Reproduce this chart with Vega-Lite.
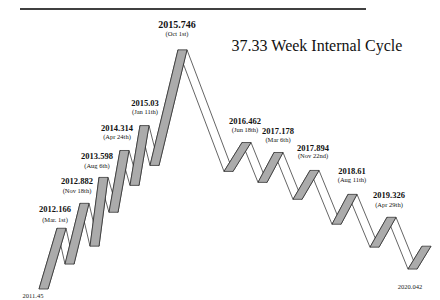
{
  "$schema": "https://vega.github.io/schema/vega-lite/v6.json",
  "width": 440,
  "height": 300,
  "autosize": {"type": "fit", "contains": "padding"},
  "padding": 0,
  "background": "white",
  "config": {"view": {"stroke": null}},
  "datasets": {
    "zigzag": [
      {"i": 0, "x": 39, "lvl": 10},
      {"i": 1, "x": 57, "lvl": 71},
      {"i": 2, "x": 65, "lvl": 35},
      {"i": 3, "x": 80, "lvl": 96},
      {"i": 4, "x": 90, "lvl": 53},
      {"i": 5, "x": 99, "lvl": 122},
      {"i": 6, "x": 109, "lvl": 87},
      {"i": 7, "x": 120, "lvl": 149},
      {"i": 8, "x": 130, "lvl": 114},
      {"i": 9, "x": 140, "lvl": 174},
      {"i": 10, "x": 150, "lvl": 134},
      {"i": 11, "x": 178, "lvl": 250},
      {"i": 12, "x": 224, "lvl": 128},
      {"i": 13, "x": 242, "lvl": 157},
      {"i": 14, "x": 258, "lvl": 117},
      {"i": 15, "x": 274, "lvl": 147},
      {"i": 16, "x": 293, "lvl": 100},
      {"i": 17, "x": 310, "lvl": 129},
      {"i": 18, "x": 332, "lvl": 75},
      {"i": 19, "x": 348, "lvl": 105},
      {"i": 20, "x": 370, "lvl": 52},
      {"i": 21, "x": 387, "lvl": 82},
      {"i": 22, "x": 408, "lvl": 30},
      {"i": 23, "x": 422, "lvl": 53}
    ],
    "rise": [
      {"seg": 0, "x": 39, "lvl": 10}, {"seg": 0, "x": 57, "lvl": 71},
      {"seg": 1, "x": 65, "lvl": 35}, {"seg": 1, "x": 80, "lvl": 96},
      {"seg": 2, "x": 90, "lvl": 53}, {"seg": 2, "x": 99, "lvl": 122},
      {"seg": 3, "x": 109, "lvl": 87}, {"seg": 3, "x": 120, "lvl": 149},
      {"seg": 4, "x": 130, "lvl": 114}, {"seg": 4, "x": 140, "lvl": 174},
      {"seg": 5, "x": 150, "lvl": 134}, {"seg": 5, "x": 178, "lvl": 250},
      {"seg": 6, "x": 224, "lvl": 128}, {"seg": 6, "x": 242, "lvl": 157},
      {"seg": 7, "x": 258, "lvl": 117}, {"seg": 7, "x": 274, "lvl": 147},
      {"seg": 8, "x": 293, "lvl": 100}, {"seg": 8, "x": 310, "lvl": 129},
      {"seg": 9, "x": 332, "lvl": 75}, {"seg": 9, "x": 348, "lvl": 105},
      {"seg": 10, "x": 370, "lvl": 52}, {"seg": 10, "x": 387, "lvl": 82},
      {"seg": 11, "x": 408, "lvl": 30}, {"seg": 11, "x": 422, "lvl": 53}
    ],
    "years": [
      {"x": 55, "lvl": 90, "t": "2012.166"},
      {"x": 77, "lvl": 118, "t": "2012.882"},
      {"x": 97, "lvl": 143, "t": "2013.598"},
      {"x": 117, "lvl": 172, "t": "2014.314"},
      {"x": 145, "lvl": 197, "t": "2015.03"},
      {"x": 245, "lvl": 179, "t": "2016.462"},
      {"x": 278, "lvl": 169, "t": "2017.178"},
      {"x": 313, "lvl": 152, "t": "2017.894"},
      {"x": 352, "lvl": 128, "t": "2018.61"},
      {"x": 389, "lvl": 104, "t": "2019.326"}
    ],
    "dates": [
      {"x": 55, "lvl": 79, "t": "(Mar. 1st)"},
      {"x": 77, "lvl": 108, "t": "(Nov 18th)"},
      {"x": 97, "lvl": 133, "t": "(Aug 6th)"},
      {"x": 117, "lvl": 163, "t": "(Apr 24th)"},
      {"x": 145, "lvl": 188, "t": "(Jan 11th)"},
      {"x": 177, "lvl": 266, "t": "(Oct 1st)"},
      {"x": 245, "lvl": 170, "t": "(Jun 18th)"},
      {"x": 278, "lvl": 160, "t": "(Mar 6th)"},
      {"x": 313, "lvl": 143, "t": "(Nov 22nd)"},
      {"x": 352, "lvl": 119, "t": "(Aug 11th)"},
      {"x": 389, "lvl": 94, "t": "(Apr 29th)"}
    ],
    "ends": [
      {"x": 33, "lvl": 3, "t": "2011.45"},
      {"x": 410, "lvl": 12, "t": "2020.042"}
    ],
    "peak": [{"x": 177, "lvl": 275, "t": "2015.746"}],
    "title": [{"x": 317, "lvl": 254, "t": "37.33 Week Internal Cycle"}],
    "topline": [{"x": 20, "x2": 366, "lvl": 291}]
  },
  "encoding": {
    "x": {"field": "x", "type": "quantitative", "scale": {"domain": [0, 440], "nice": false, "zero": false}, "axis": null},
    "y": {"field": "lvl", "type": "quantitative", "scale": {"domain": [0, 300], "nice": false, "zero": false}, "axis": null}
  },
  "layer": [
    {
      "data": {"name": "topline"},
      "mark": {"type": "rule", "color": "black", "strokeWidth": 1.6},
      "encoding": {"x2": {"field": "x2"}}
    },
    {
      "data": {"name": "zigzag"},
      "mark": {"type": "line", "color": "#222", "strokeWidth": 0.7},
      "encoding": {"order": {"field": "i", "type": "quantitative"}}
    },
    {
      "data": {"name": "zigzag"},
      "mark": {"type": "line", "color": "#222", "strokeWidth": 0.7, "xOffset": 9},
      "encoding": {"order": {"field": "i", "type": "quantitative"}}
    },
    {
      "data": {"name": "rise"},
      "mark": {"type": "area", "orient": "horizontal", "x2Offset": 9, "fill": "#ababab", "fillOpacity": 1, "stroke": "#222", "strokeWidth": 0.7},
      "encoding": {
        "x2": {"field": "x"},
        "detail": {"field": "seg", "type": "nominal"}
      }
    },
    {
      "data": {"name": "years"},
      "mark": {"type": "text", "font": "Liberation Serif", "fontSize": 8.5, "fontWeight": 600, "color": "#111", "baseline": "middle"},
      "encoding": {"text": {"field": "t"}}
    },
    {
      "data": {"name": "dates"},
      "mark": {"type": "text", "font": "Liberation Serif", "fontSize": 6.5, "color": "#111", "baseline": "middle"},
      "encoding": {"text": {"field": "t"}}
    },
    {
      "data": {"name": "ends"},
      "mark": {"type": "text", "font": "Liberation Serif", "fontSize": 6.5, "color": "#222", "baseline": "middle"},
      "encoding": {"text": {"field": "t"}}
    },
    {
      "data": {"name": "peak"},
      "mark": {"type": "text", "font": "Liberation Serif", "fontSize": 10, "fontWeight": "bold", "color": "#111", "baseline": "middle"},
      "encoding": {"text": {"field": "t"}}
    },
    {
      "data": {"name": "title"},
      "mark": {"type": "text", "font": "Liberation Serif", "fontSize": 16, "color": "#111", "baseline": "middle"},
      "encoding": {"text": {"field": "t"}}
    }
  ]
}
